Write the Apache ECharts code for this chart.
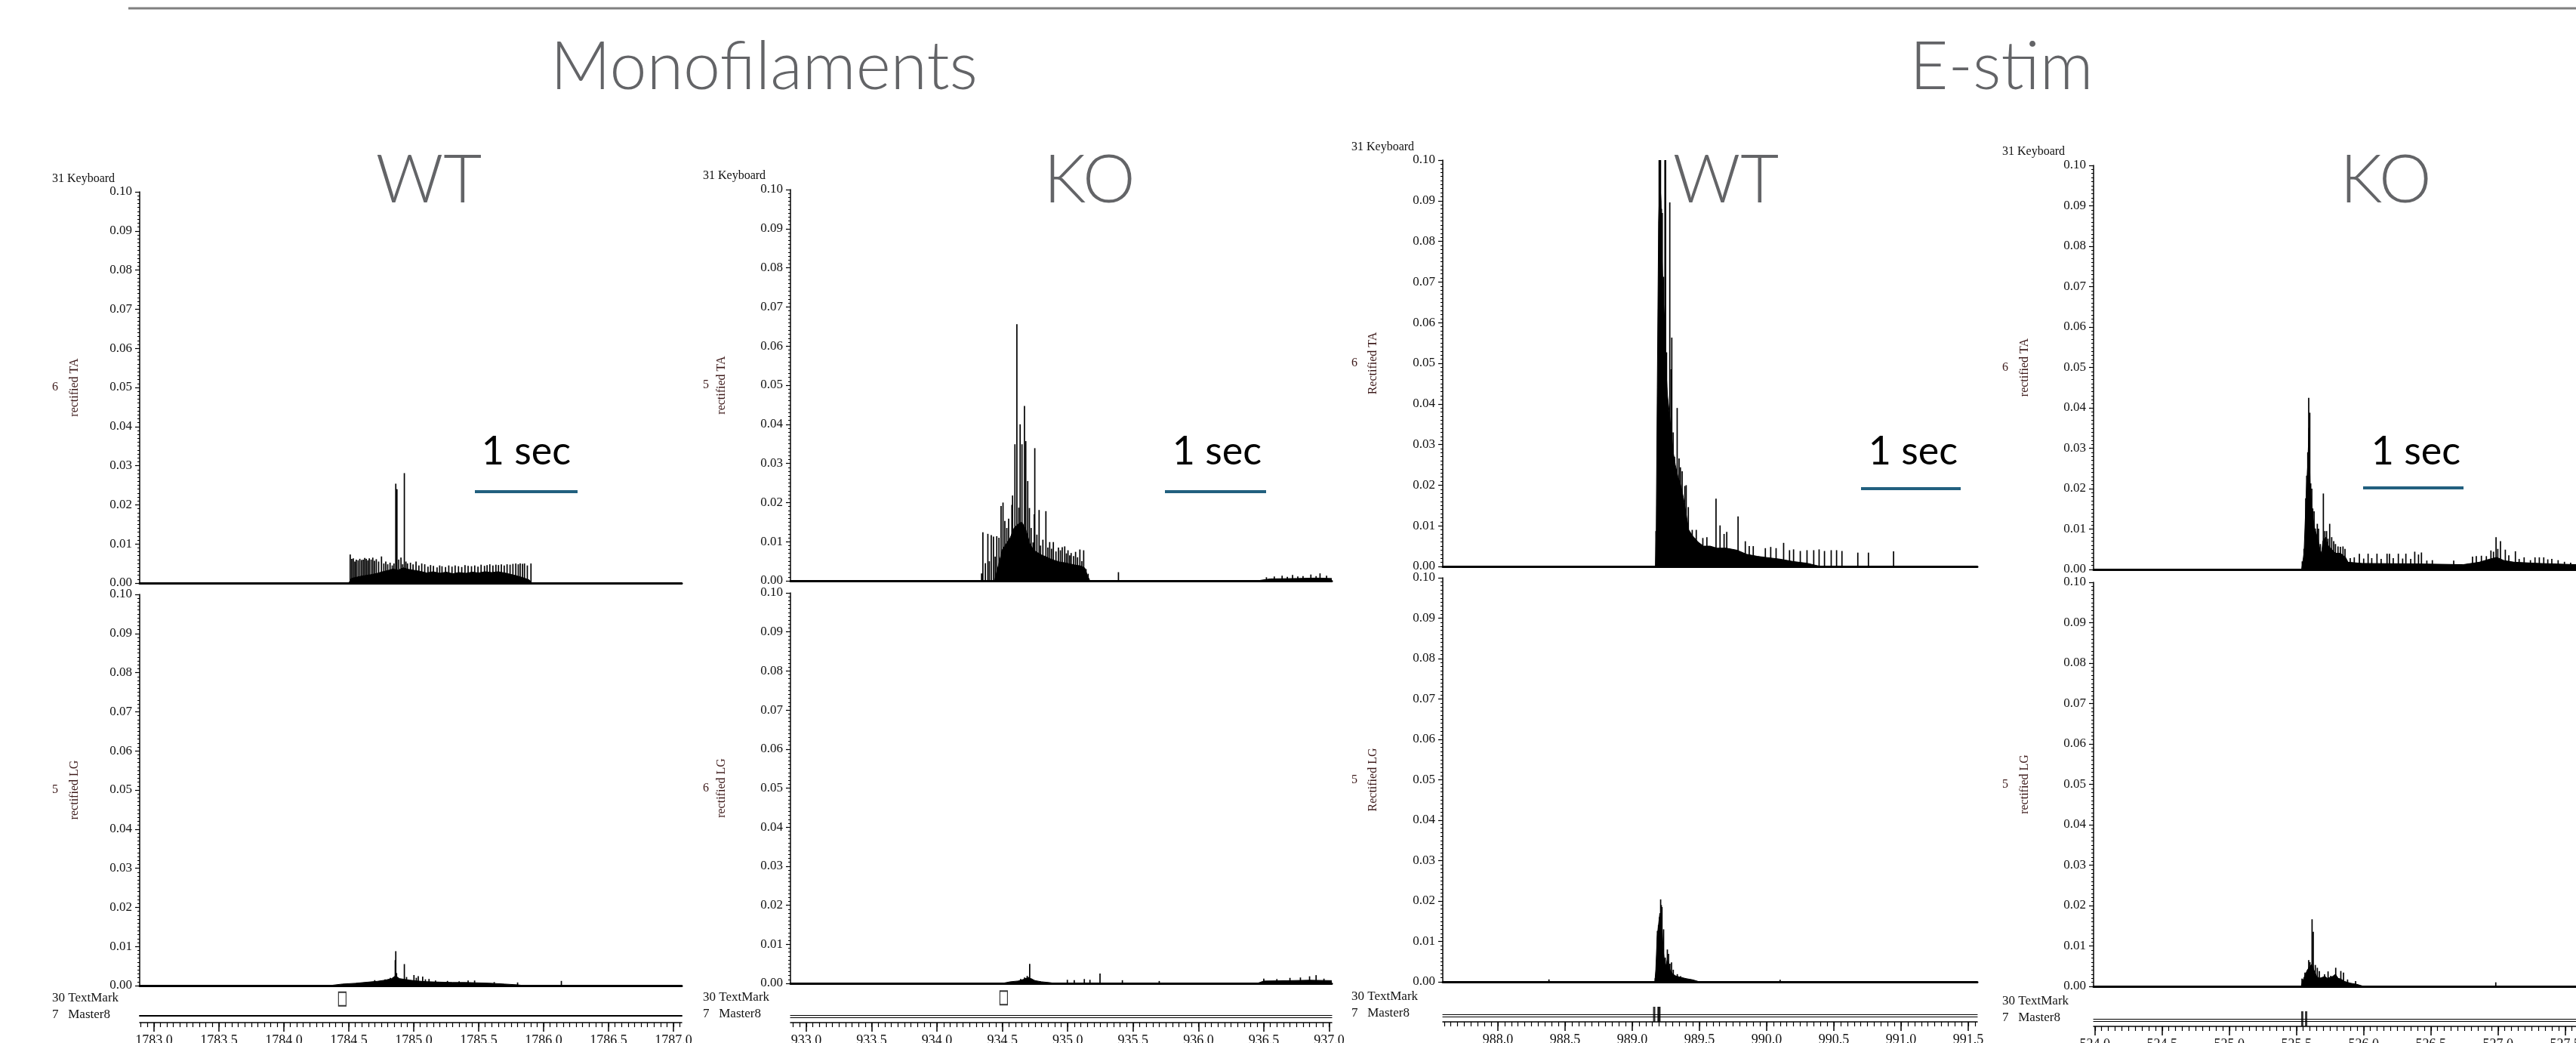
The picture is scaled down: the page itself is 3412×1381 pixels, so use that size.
<!DOCTYPE html>
<html>
<head>
<meta charset="utf-8">
<title>EMG traces</title>
<script src="https://cdn.jsdelivr.net/npm/echarts@6.0.0/dist/echarts.min.js"></script>
<style>
    html, body { margin: 0; padding: 0; background: #fff; }
    #main { width: 3412px; height: 1381px; }
</style>
</head>
<body>
<div id="main"></div>
<script>
// ---------- data (time in s, amplitude in V) ----------
var groupTitles = ['Monofilaments', 'E-stim'];
var panelTitles = ['WT', 'KO', 'WT', 'KO'];

var monoWtTicks = [1783.0, 1783.5, 1784.0, 1784.5, 1785.0, 1785.5, 1786.0, 1786.5, 1787.0];
var monoKoTicks = [933.0, 933.5, 934.0, 934.5, 935.0, 935.5, 936.0, 936.5, 937.0];
var estimWtTicks = [988.0, 988.5, 989.0, 989.5, 990.0, 990.5, 991.0, 991.5];
var estimKoTicks = [524.0, 524.5, 525.0, 525.5, 526.0, 526.5, 527.0, 527.5];

// dense part of each burst (filled) + individual spikes
var monoWtTaCore = [[1784.50,0],[1784.52,0.0012],[1784.56,0.0015],[1784.60,0.0018],[1784.64,0.002],[1784.68,0.0022],[1784.72,0.0025],[1784.76,0.0029],[1784.80,0.0032],[1784.84,0.0036],[1784.88,0.0033],[1784.92,0.0039],[1784.96,0.0035],[1785.00,0.0033],[1785.05,0.003],[1785.10,0.0026],[1785.15,0.0029],[1785.20,0.0025],[1785.25,0.0028],[1785.30,0.0024],[1785.35,0.0027],[1785.40,0.0025],[1785.45,0.0028],[1785.50,0.0026],[1785.55,0.0029],[1785.60,0.0027],[1785.65,0.0029],[1785.70,0.0026],[1785.75,0.0022],[1785.80,0.0018],[1785.85,0.0013],[1785.89,0.0008],[1785.91,0]];
var monoWtTaSpikes = [[1784.511,0.0073],[1784.523,0.0062],[1784.535,0.0063],[1784.547,0.0055],[1784.558,0.006],[1784.572,0.0058],[1784.585,0.0062],[1784.598,0.0059],[1784.611,0.006],[1784.623,0.0064],[1784.635,0.0062],[1784.647,0.0058],[1784.658,0.0063],[1784.672,0.006],[1784.685,0.0065],[1784.698,0.0057],[1784.712,0.0061],[1784.73,0.0055],[1784.752,0.0068],[1784.77,0.005],[1784.785,0.0055],[1784.80,0.0048],[1784.818,0.0052],[1784.835,0.0045],[1784.848,0.005],[1784.862,0.0254],[1784.871,0.024],[1784.885,0.006],[1784.902,0.0065],[1784.915,0.0048],[1784.928,0.0281],[1784.94,0.0055],[1784.952,0.005],[1784.975,0.0052],[1784.995,0.0048],[1785.018,0.0055],[1785.04,0.0045],[1785.062,0.005],[1785.085,0.0048],[1785.11,0.0042],[1785.13,0.0046],[1785.152,0.0044],[1785.18,0.004],[1785.2,0.0045],[1785.218,0.0043],[1785.245,0.0041],[1785.27,0.0045],[1785.295,0.0042],[1785.319,0.0045],[1785.345,0.0043],[1785.37,0.0041],[1785.395,0.0046],[1785.419,0.0044],[1785.445,0.0043],[1785.47,0.0045],[1785.495,0.0042],[1785.519,0.0047],[1785.545,0.0044],[1785.565,0.0046],[1785.586,0.0048],[1785.61,0.0045],[1785.633,0.0047],[1785.653,0.0046],[1785.675,0.0048],[1785.697,0.0045],[1785.719,0.0048],[1785.742,0.0047],[1785.764,0.0049],[1785.786,0.005],[1785.805,0.0048],[1785.82,0.005],[1785.838,0.0049],[1785.853,0.005],[1785.875,0.0045],[1785.903,0.005]];
var monoWtLgCore = [[1784.35,0],[1784.45,0.0004],[1784.55,0.0006],[1784.65,0.0009],[1784.72,0.0011],[1784.78,0.0014],[1784.83,0.0018],[1784.86,0.0025],[1784.89,0.0018],[1784.93,0.0016],[1784.97,0.0014],[1785.02,0.0012],[1785.10,0.001],[1785.20,0.0009],[1785.30,0.0008],[1785.40,0.0008],[1785.50,0.0007],[1785.60,0.0006],[1785.70,0.0004],[1785.80,0.0002],[1785.85,0]];
var monoWtLgSpikes = [[1784.70,0.0014],[1784.78,0.0016],[1784.82,0.002],[1784.858,0.0065],[1784.862,0.0088],[1784.868,0.0032],[1784.928,0.0055],[1784.945,0.0022],[1785.002,0.0027],[1785.02,0.002],[1785.035,0.0024],[1785.069,0.0023],[1785.09,0.0016],[1785.118,0.0017],[1785.168,0.0013],[1785.26,0.0012],[1785.35,0.0011],[1785.419,0.0013],[1785.469,0.0013],[1785.62,0.0009],[1785.80,0.0008],[1786.137,0.0012]];

var monoKoTaCore = [[934.44,0],[934.47,0.004],[934.50,0.008],[934.53,0.0095],[934.56,0.011],[934.59,0.0135],[934.62,0.0145],[934.65,0.015],[934.68,0.013],[934.71,0.0095],[934.74,0.0078],[934.77,0.0072],[934.80,0.0066],[934.83,0.0062],[934.86,0.0057],[934.90,0.0052],[934.94,0.0048],[934.98,0.0046],[935.02,0.0043],[935.06,0.004],[935.10,0.0038],[935.13,0.0033],[935.15,0.0014],[935.17,0],[936.45,0],[936.55,0.0005],[936.75,0.0006],[936.9,0.0007],[937.02,0.0006]];
var monoKoTaSpikes = [[934.341,0.0019],[934.351,0.0124],[934.37,0.0045],[934.389,0.012],[934.40,0.005],[934.415,0.0117],[934.432,0.0113],[934.445,0.0062],[934.457,0.0114],[934.474,0.011],[934.490,0.0191],[934.505,0.020],[934.519,0.0153],[934.534,0.0135],[934.548,0.0159],[934.563,0.0098],[934.573,0.0194],[934.578,0.0218],[934.596,0.0349],[934.611,0.0656],[934.626,0.0187],[934.636,0.040],[934.650,0.0349],[934.669,0.0447],[934.679,0.0357],[934.694,0.0255],[934.707,0.0186],[934.72,0.0135],[934.735,0.0098],[934.744,0.017],[934.748,0.0339],[934.764,0.0118],[934.781,0.0181],[934.792,0.009],[934.81,0.0105],[934.833,0.0178],[934.848,0.0085],[934.862,0.0099],[934.876,0.0082],[934.890,0.0099],[934.91,0.0075],[934.929,0.0085],[934.944,0.0078],[934.958,0.0086],[934.977,0.0088],[934.99,0.007],[935.002,0.0078],[935.015,0.0065],[935.026,0.0071],[935.045,0.0063],[935.06,0.0074],[935.075,0.006],[935.093,0.008],[935.108,0.005],[935.122,0.0078],[935.14,0.003],[935.156,0.0018],[935.388,0.0022],[936.52,0.0009],[936.58,0.0011],[936.64,0.0013],[936.68,0.001],[936.72,0.0015],[936.76,0.0011],[936.80,0.0012],[936.86,0.0016],[936.9,0.0012],[936.93,0.0019],[936.98,0.0013]];
var monoKoLgCore = [[934.50,0],[934.56,0.0004],[934.62,0.0006],[934.66,0.001],[934.69,0.0014],[934.72,0.0012],[934.75,0.0007],[934.80,0.0004],[934.86,0.0002],[934.90,0],[936.45,0],[936.5,0.0006],[936.7,0.0007],[936.85,0.0008],[937.02,0.0007]];
var monoKoLgSpikes = [[934.64,0.0011],[934.67,0.0015],[934.69,0.0019],[934.70,0.0016],[934.709,0.005],[934.72,0.0012],[934.997,0.0009],[935.05,0.0008],[935.127,0.0011],[935.17,0.0009],[935.247,0.0025],[935.418,0.0008],[935.7,0.0006],[936.5,0.0012],[936.6,0.0011],[936.7,0.0014],[936.78,0.0015],[936.85,0.0018],[936.9,0.0021],[936.96,0.0012]];

var estimWtTaCore = [[989.172,0],[989.178,0.008],[989.186,0.044],[989.196,0.085],[989.205,0.095],[989.214,0.09],[989.222,0.075],[989.232,0.065],[989.242,0.06],[989.252,0.048],[989.262,0.042],[989.275,0.038],[989.29,0.033],[989.305,0.028],[989.32,0.025],[989.34,0.022],[989.36,0.02],[989.38,0.017],[989.40,0.013],[989.42,0.009],[989.45,0.0075],[989.49,0.006],[989.53,0.005],[989.58,0.005],[989.63,0.0045],[989.70,0.0045],[989.78,0.004],[989.85,0.003],[989.93,0.0025],[990.0,0.0022],[990.1,0.0018],[990.2,0.0012],[990.3,0.0008],[990.4,0]];
var estimWtTaSpikes = [[989.176,0.0087],[989.2,0.1],[989.204,0.1],[989.21,0.1],[989.217,0.088],[989.223,0.087],[989.233,0.0713],[989.243,0.1],[989.248,0.1],[989.255,0.0527],[989.268,0.034],[989.279,0.0896],[989.289,0.0485],[989.294,0.0563],[989.304,0.033],[989.314,0.027],[989.334,0.039],[989.348,0.0266],[989.358,0.0244],[989.371,0.0234],[989.391,0.0198],[989.401,0.020],[989.417,0.0146],[989.446,0.009],[989.476,0.009],[989.525,0.007],[989.555,0.0072],[989.623,0.0167],[989.653,0.0101],[989.683,0.008],[989.703,0.0085],[989.787,0.0123],[989.841,0.0062],[989.870,0.005],[989.9,0.005],[989.99,0.0045],[990.03,0.0048],[990.07,0.0045],[990.126,0.0058],[990.17,0.004],[990.2,0.0042],[990.25,0.0038],[990.30,0.004],[990.35,0.004],[990.39,0.0042],[990.43,0.0038],[990.48,0.004],[990.52,0.004],[990.56,0.0038],[990.678,0.0034],[990.757,0.0034],[990.944,0.0037]];
var estimWtLgCore = [[989.168,0],[989.175,0.003],[989.185,0.011],[989.195,0.014],[989.205,0.017],[989.213,0.016],[989.222,0.013],[989.23,0.008],[989.24,0.005],[989.25,0.004],[989.26,0.0055],[989.27,0.004],[989.28,0.003],[989.29,0.0025],[989.30,0.002],[989.32,0.0015],[989.35,0.0012],[989.40,0.0008],[989.45,0.0005],[989.5,0]];
var estimWtLgSpikes = [[989.171,0.0009],[989.187,0.0126],[989.195,0.014],[989.202,0.016],[989.211,0.0204],[989.216,0.019],[989.221,0.0185],[989.233,0.013],[989.245,0.006],[989.261,0.008],[989.27,0.0069],[989.28,0.0045],[989.292,0.0048],[989.305,0.003],[989.335,0.0019],[989.36,0.0014],[989.40,0.0008],[988.38,0.0006],[990.1,0.0005]];

var estimKoTaCore = [[525.538,0],[525.543,0.001],[525.556,0.004],[525.565,0.012],[525.574,0.02],[525.584,0.026],[525.593,0.035],[525.602,0.02],[525.612,0.016],[525.621,0.013],[525.636,0.01],[525.655,0.008],[525.674,0.005],[525.687,0.004],[525.696,0.007],[525.715,0.008],[525.734,0.006],[525.762,0.005],[525.79,0.004],[525.827,0.004],[525.865,0.003],[525.884,0.0018],[525.99,0.0015],[526.37,0.0014],[526.74,0.0012],[526.86,0.0018],[526.93,0.0025],[526.99,0.003],[527.045,0.0022],[527.12,0.0018],[527.31,0.0015],[527.58,0.0012]];
var estimKoTaSpikes = [[525.543,0.002],[525.556,0.0051],[525.569,0.0176],[525.576,0.0232],[525.584,0.029],[525.591,0.0425],[525.599,0.0388],[525.606,0.0213],[525.614,0.02],[525.621,0.0151],[525.631,0.0144],[525.640,0.0101],[525.655,0.0113],[525.664,0.0101],[525.677,0.0063],[525.700,0.0188],[525.711,0.0095],[525.724,0.0095],[525.734,0.0076],[525.747,0.0113],[525.762,0.008],[525.777,0.007],[525.790,0.0063],[525.809,0.0057],[525.827,0.0056],[525.846,0.0057],[525.861,0.0051],[525.9,0.0028],[525.93,0.003],[525.968,0.0039],[526.0,0.0027],[526.033,0.0039],[526.06,0.0028],[526.099,0.0039],[526.13,0.0026],[526.174,0.0039],[526.192,0.0039],[526.22,0.0028],[526.258,0.0039],[526.29,0.0027],[526.314,0.0039],[526.35,0.0026],[526.380,0.0044],[526.408,0.0037],[526.430,0.0042],[526.47,0.0022],[526.511,0.0023],[526.67,0.0022],[526.81,0.0032],[526.838,0.0033],[526.876,0.0034],[526.913,0.0033],[526.947,0.0047],[526.966,0.0044],[526.985,0.008],[526.998,0.0051],[527.018,0.007],[527.054,0.0049],[527.08,0.0035],[527.129,0.0045],[527.157,0.0026],[527.194,0.003],[527.241,0.0023],[527.275,0.003],[527.307,0.003],[527.340,0.003],[527.37,0.0025],[527.400,0.0026],[527.447,0.0023],[527.494,0.0019],[527.54,0.0017]];
var estimKoLgCore = [[525.535,0],[525.545,0.0012],[525.56,0.0025],[525.58,0.004],[525.60,0.005],[525.615,0.0055],[525.63,0.004],[525.65,0.0025],[525.67,0.002],[525.69,0.0022],[525.71,0.0025],[525.73,0.002],[525.75,0.0022],[525.77,0.0025],[525.79,0.003],[525.81,0.002],[525.83,0.0018],[525.86,0.0012],[525.9,0.0008],[525.95,0.0005],[526.0,0]];
var estimKoLgSpikes = [[525.541,0.0019],[525.563,0.0034],[525.591,0.0065],[525.60,0.006],[525.616,0.0166],[525.625,0.0135],[525.64,0.0053],[525.655,0.0046],[525.67,0.0038],[525.709,0.003],[525.735,0.0037],[525.755,0.0026],[525.792,0.0046],[525.83,0.0038],[525.85,0.0034],[525.88,0.0017],[525.94,0.0013],[526.983,0.001]];

// event channels (times)
var monoWtTextMarks = [1784.45];
var monoKoTextMarks = [934.51];
var estimWtTextMarks = [];
var estimKoTextMarks = [];
var monoWtMaster8 = [];
var monoKoMaster8 = [];
var estimWtMaster8 = [989.163, 989.195, 989.202];
var estimKoMaster8 = [525.543, 525.572];

// ---------- layout ----------
var panels = [
    { left: 185, width: 718, tops: [254, 787, 1308], heights: [518, 518, 37], xRange: [1782.89, 1787.064], ticks: monoWtTicks,
      ta: { core: monoWtTaCore, spikes: monoWtTaSpikes, chan: '6', name: 'rectified TA' },
      lg: { core: monoWtLgCore, spikes: monoWtLgSpikes, chan: '5', name: 'rectified LG' },
      textMarks: monoWtTextMarks, master8: monoWtMaster8, axisOffset: 9, doubleLine: false,
      labelX: 69, keyboardY: 237, chanX: 73, nameX: 99, title: { x: 568 }, sec: { x: 697, x1: 629, x2: 765, y: 651 } },
    { left: 1047, width: 717, tops: [251, 785, 1306], heights: [518, 517, 38], xRange: [932.879, 937.02], ticks: monoKoTicks,
      ta: { core: monoKoTaCore, spikes: monoKoTaSpikes, chan: '5', name: 'rectified TA' },
      lg: { core: monoKoLgCore, spikes: monoKoLgSpikes, chan: '6', name: 'rectified LG' },
      textMarks: monoKoTextMarks, master8: monoKoMaster8, axisOffset: 10, doubleLine: true,
      labelX: 931, keyboardY: 233, chanX: 935, nameX: 956, title: { x: 1443 }, sec: { x: 1612, x1: 1543, x2: 1677, y: 651 } },
    { left: 1911, width: 708, tops: [212, 765, 1306], heights: [538, 535, 37], xRange: [987.59, 991.567], ticks: estimWtTicks,
      ta: { core: estimWtTaCore, spikes: estimWtTaSpikes, chan: '6', name: 'Rectified TA' },
      lg: { core: estimWtLgCore, spikes: estimWtLgSpikes, chan: '5', name: 'Rectified LG' },
      textMarks: estimWtTextMarks, master8: estimWtMaster8, axisOffset: 10, doubleLine: true,
      labelX: 1790, keyboardY: 195, chanX: 1794, nameX: 1819, title: { x: 2286 }, sec: { x: 2534, x1: 2465, x2: 2597, y: 647 } },
    { left: 2773, width: 639, tops: [219, 771, 1312], heights: [535, 535, 37], xRange: [523.99, 527.58], ticks: estimKoTicks,
      ta: { core: estimKoTaCore, spikes: estimKoTaSpikes, chan: '6', name: 'rectified TA' },
      lg: { core: estimKoLgCore, spikes: estimKoLgSpikes, chan: '5', name: 'rectified LG' },
      textMarks: estimKoTextMarks, master8: estimKoMaster8, axisOffset: 10, doubleLine: true,
      labelX: 2652, keyboardY: 201, chanX: 2656, nameX: 2682, title: { x: 3160 }, sec: { x: 3200, x1: 3130, x2: 3263, y: 646 } }
];

var serif = 'Liberation Serif';
var ink = '#111';
var titleGray = '#636467';

function minorTicks(range) {
    var out = [];
    for (var v = Math.ceil(range[0] * 20) / 20; v <= range[1] + 1e-9; v += 0.05) {
        out.push(+v.toFixed(2));
    }
    return out;
}

var grids = [], xAxes = [], yAxes = [], series = [], graphics = [];

function addTrace(gi, trace, p) {
    var xi = xAxes.length;
    xAxes.push({
        gridIndex: gi, type: 'value', min: p.xRange[0], max: p.xRange[1],
        axisLine: { show: true, onZero: false, lineStyle: { color: '#000', width: 3 } },
        axisTick: { show: false }, axisLabel: { show: false }, splitLine: { show: false }
    });
    var yi = yAxes.length;
    yAxes.push({
        gridIndex: gi, type: 'value', min: 0, max: 0.1, interval: 0.01,
        axisLine: { show: true, lineStyle: { color: '#000', width: 1.5 } },
        axisTick: { show: true, length: 6, lineStyle: { color: '#000', width: 1.2 } },
        minorTick: { show: true, splitNumber: 10, length: 3, lineStyle: { color: '#000', width: 1 } },
        splitLine: { show: false },
        axisLabel: { formatter: function (v) { return v.toFixed(2); }, fontFamily: serif, fontSize: 17, color: ink, margin: 10 },
        name: trace.name, nameLocation: 'middle', nameRotate: 90, nameGap: p.left - p.nameX - 8,
        nameTextStyle: { fontFamily: serif, fontSize: 16, color: '#3d1a1a' }
    });
    series.push({
        type: 'line', xAxisIndex: xi, yAxisIndex: yi, data: trace.core, symbol: 'none', silent: true,
        lineStyle: { color: '#000', width: 1 }, areaStyle: { color: '#000', opacity: 1 }
    });
    series.push({
        type: 'custom', xAxisIndex: xi, yAxisIndex: yi, data: trace.spikes, silent: true, clip: true,
        renderItem: function (params, api) {
            var p0 = api.coord([api.value(0), 0]);
            var p1 = api.coord([api.value(0), api.value(1)]);
            return { type: 'line', shape: { x1: p0[0], y1: p0[1], x2: p1[0], y2: p1[1] },
                     style: { stroke: '#000', lineWidth: 1.7 } };
        }
    });
    var g = grids[gi];
    graphics.push({ type: 'text', x: p.chanX, y: g.top + g.height / 2, style: {
        text: trace.chan, fontFamily: serif, fontSize: 16, fill: '#3d1a1a', align: 'center', verticalAlign: 'middle' } });
}

panels.forEach(function (p, k) {
    p.tops.forEach(function (t, j) {
        grids.push({ left: p.left, top: t, width: p.width, height: p.heights[j], outerBoundsMode: 'none', containLabel: false });
    });
    var g0 = 3 * k;
    addTrace(g0, p.ta, p);
    addTrace(g0 + 1, p.lg, p);

    // event channel grid: TextMark + Master8 + time axis
    var ge = g0 + 2;
    var base = { gridIndex: ge, type: 'value', min: p.xRange[0], max: p.xRange[1], position: 'bottom', splitLine: { show: false } };
    var xm = xAxes.length;
    xAxes.push(Object.assign({}, base, {
        offset: 0, axisLine: { show: true, onZero: false, lineStyle: { color: '#000', width: p.doubleLine ? 1.2 : 2 } },
        axisTick: { show: false }, axisLabel: { show: false } }));
    if (p.doubleLine) {
        xAxes.push(Object.assign({}, base, {
            offset: 3, axisLine: { show: true, onZero: false, lineStyle: { color: '#000', width: 1.2 } },
            axisTick: { show: false }, axisLabel: { show: false } }));
    }
    xAxes.push(Object.assign({}, base, {
        offset: p.axisOffset, axisLine: { show: true, onZero: false, lineStyle: { color: '#000', width: 1.5 } },
        axisTick: { show: true, customValues: p.ticks, length: 12, lineStyle: { color: '#000', width: 1.5 } },
        axisLabel: { show: true, customValues: p.ticks, formatter: function (v) { return v.toFixed(1); },
                     fontFamily: serif, fontSize: 18, color: ink, margin: 15 } }));
    xAxes.push(Object.assign({}, base, {
        offset: p.axisOffset, axisLine: { show: false, onZero: false },
        axisTick: { show: true, customValues: minorTicks(p.xRange), length: 6, lineStyle: { color: '#000', width: 1.2 } },
        axisLabel: { show: false } }));
    var ye = yAxes.length;
    yAxes.push({ gridIndex: ge, type: 'value', min: 0, max: 1, show: false });

    series.push({
        type: 'scatter', xAxisIndex: xm, yAxisIndex: ye, silent: true,
        data: p.textMarks.map(function (t) { return [t, 0.6]; }),
        symbol: 'rect', symbolSize: [10, 18],
        itemStyle: { color: '#fff', borderColor: '#000', borderWidth: 1.5 }
    });
    series.push({
        type: 'scatter', xAxisIndex: xm, yAxisIndex: ye, silent: true,
        data: p.master8.map(function (t) { return [t, 0]; }),
        symbol: 'rect', symbolSize: [3, 20], itemStyle: { color: '#000' }
    });

    var ey = p.tops[2] + p.heights[2];
    graphics.push({ type: 'text', x: p.labelX, y: p.keyboardY, style: {
        text: '31 Keyboard', fontFamily: serif, fontSize: 16, fill: ink, verticalAlign: 'middle' } });
    graphics.push({ type: 'text', x: p.labelX, y: ey - 23, style: {
        text: '30 TextMark', fontFamily: serif, fontSize: 17, fill: ink, verticalAlign: 'middle' } });
    graphics.push({ type: 'text', x: p.labelX, y: ey - 1, style: {
        text: '7   Master8', fontFamily: serif, fontSize: 17, fill: ink, verticalAlign: 'middle' } });

    // panel title and 1 sec scale bar
    graphics.push({ type: 'text', x: p.title.x, y: 240, style: {
        text: panelTitles[k], fontFamily: 'Lato', fontWeight: 300, fontSize: 88, fill: titleGray, align: 'center', verticalAlign: 'middle' } });
    graphics.push({ type: 'text', x: p.sec.x, y: 598, style: {
        text: '1 sec', fontFamily: 'Lato', fontSize: 52, fill: '#000', align: 'center', verticalAlign: 'middle' } });
    graphics.push({ type: 'line', shape: { x1: p.sec.x1, y1: p.sec.y, x2: p.sec.x2, y2: p.sec.y },
        style: { stroke: '#22607f', lineWidth: 4 } });
});

graphics.push({ type: 'line', shape: { x1: 170, y1: 11, x2: 3412, y2: 11 }, style: { stroke: '#808080', lineWidth: 3 } });
graphics.push({ type: 'text', x: 1012, y: 90, style: {
    text: groupTitles[0], fontFamily: 'Lato', fontWeight: 300, fontSize: 88, fill: titleGray, align: 'center', verticalAlign: 'middle' } });
graphics.push({ type: 'text', x: 2651, y: 90, style: {
    text: groupTitles[1], fontFamily: 'Lato', fontWeight: 300, fontSize: 88, fill: titleGray, align: 'center', verticalAlign: 'middle' } });

var myChart = echarts.init(document.getElementById('main'));
var option = {
    backgroundColor: '#fff',
    animation: false,
    grid: grids,
    xAxis: xAxes,
    yAxis: yAxes,
    series: series,
    graphic: { elements: graphics }
};
option && myChart.setOption(option);
</script>
</body>
</html>
